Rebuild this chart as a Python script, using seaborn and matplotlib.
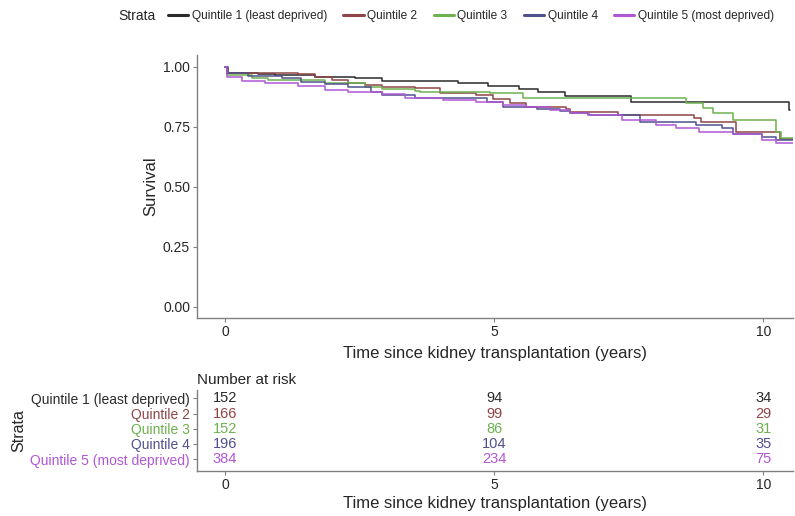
import pandas as pd
import seaborn as sns
import matplotlib.pyplot as plt
from matplotlib.lines import Line2D

# Strata
strata = ["Quintile 1 (least deprived)", "Quintile 2", "Quintile 3",
          "Quintile 4", "Quintile 5 (most deprived)"]
colors = ["#2b2b2b", "#8f4546", "#6cb24f", "#50508f", "#b057d4"]

# Kaplan-Meier step points (time in years, survival)
q1_time = [0, 0.05, 0.61, 0.93, 1.61, 1.67, 2.41, 2.91, 4.33, 4.88, 5.47, 5.81, 6.31, 7.55, 10.48, 10.5]
q1_surv = [1.0, 0.976, 0.971, 0.968, 0.965, 0.96, 0.953, 0.943, 0.932, 0.922, 0.907, 0.895, 0.879, 0.853, 0.821, 0.821]

q2_time = [0, 0.03, 1.36, 1.67, 1.98, 2.28, 2.6, 2.91, 3.53, 3.99, 4.67, 4.97, 5.29, 5.6, 6.34, 6.4, 7.3, 8.72, 8.85, 9.5, 10.3, 10.55]
q2_surv = [1.0, 0.975, 0.971, 0.96, 0.946, 0.935, 0.925, 0.915, 0.911, 0.893, 0.883, 0.865, 0.851, 0.835, 0.824, 0.814, 0.8, 0.786, 0.772, 0.73, 0.70, 0.70]

q3_time = [0, 0.03, 0.5, 0.8, 1.86, 2.6, 2.91, 3.53, 3.62, 4.92, 5.53, 8.57, 8.87, 9.06, 9.43, 10.24, 10.33, 10.55]
q3_surv = [1.0, 0.967, 0.953, 0.946, 0.932, 0.918, 0.907, 0.901, 0.897, 0.89, 0.872, 0.851, 0.828, 0.807, 0.779, 0.73, 0.703, 0.703]

q4_time = [0, 0.03, 0.43, 1.05, 1.42, 1.86, 2.28, 2.72, 2.91, 3.53, 4.86, 5.16, 5.79, 6.22, 6.4, 6.75, 7.7, 8.75, 9.24, 9.43, 9.98, 10.24, 10.55]
q4_surv = [1.0, 0.974, 0.963, 0.953, 0.939, 0.929, 0.918, 0.897, 0.883, 0.872, 0.855, 0.835, 0.824, 0.818, 0.807, 0.8, 0.772, 0.758, 0.744, 0.72, 0.707, 0.696, 0.696]

q5_time = [0, 0.03, 0.31, 0.74, 1.36, 1.86, 2.28, 2.91, 3.34, 4.05, 4.67, 5.16, 5.6, 6.03, 6.4, 6.77, 7.38, 8.0, 8.38, 8.8, 9.43, 9.98, 10.24, 10.55]
q5_surv = [1.0, 0.96, 0.943, 0.935, 0.921, 0.904, 0.895, 0.886, 0.872, 0.863, 0.855, 0.842, 0.835, 0.821, 0.807, 0.8, 0.779, 0.758, 0.744, 0.73, 0.72, 0.696, 0.682, 0.682]

# Number at risk at 0, 5, 10 years
risk_times = [0, 5, 10]
risk_q1 = [152, 94, 34]
risk_q2 = [166, 99, 29]
risk_q3 = [152, 86, 31]
risk_q4 = [196, 104, 35]
risk_q5 = [384, 234, 75]

times = [q1_time, q2_time, q3_time, q4_time, q5_time]
survs = [q1_surv, q2_surv, q3_surv, q4_surv, q5_surv]
risks = [risk_q1, risk_q2, risk_q3, risk_q4, risk_q5]

df = pd.concat([pd.DataFrame({"time": t, "surv": s, "strata": name})
                for t, s, name in zip(times, survs, strata)], ignore_index=True)
pal = dict(zip(strata, colors))

sns.set_style("white")
plt.rcParams["font.family"] = ["Liberation Sans", "DejaVu Sans"]

W, H = 795, 516
fig = plt.figure(figsize=(W / 100, H / 100), dpi=100)
ax = fig.add_axes([197 / W, 1 - 318 / H, (793 - 197) / W, (318 - 55) / H])
axt = fig.add_axes([197 / W, 1 - 471 / H, (793 - 197) / W, (471 - 390) / H])

spine_col = "#808080"

# survival curves
sns.lineplot(data=df, x="time", y="surv", hue="strata", palette=pal,
             drawstyle="steps-post", estimator=None, sort=False,
             linewidth=1.1, ax=ax, legend=False)
ax.set_xlim(-0.52, 10.55)
ax.set_ylim(-0.046, 1.05)
ax.set_xticks([0, 5, 10])
ax.set_yticks([0, 0.25, 0.5, 0.75, 1.0])
ax.set_yticklabels(["0.00", "0.25", "0.50", "0.75", "1.00"])
ax.set_xlabel("Time since kidney transplantation (years)", fontsize=12, labelpad=5)
ax.set_ylabel("Survival", fontsize=12, labelpad=3)
for a in (ax, axt):
    for side in ("top", "right"):
        a.spines[side].set_visible(False)
    for side in ("left", "bottom"):
        a.spines[side].set_color(spine_col)
        a.spines[side].set_linewidth(1.0)
    a.tick_params(axis="both", length=3, width=0.8, color=spine_col,
                  labelsize=10, pad=2, left=True, bottom=True)

# risk table
axt.set_xlim(-0.52, 10.55)
axt.set_ylim(0.21, 5.55)
row_y = [5, 4, 3, 2, 1]
for y, name, col, r in zip(row_y, strata, colors, risks):
    for t, n in zip(risk_times, r):
        axt.text(t, y, str(n), color=col, ha="center", va="center", fontsize=10.5)
axt.set_yticks(row_y)
axt.set_yticklabels(strata)
for lab, col in zip(axt.get_yticklabels(), colors):
    lab.set_color(col)
axt.set_xticks([0, 5, 10])
axt.set_xlabel("Time since kidney transplantation (years)", fontsize=12, labelpad=3)
axt.set_ylabel("Strata", fontsize=11.5, labelpad=3)
axt.set_title("Number at risk", loc="left", fontsize=11, pad=4)

# legend on top
handles = [Line2D([], [], color=c, lw=2.2) for c in colors]
fig.text(118 / W, 1 - 16 / H, "Strata", fontsize=10, va="center", ha="left")
fig.legend(handles, strata, loc="center left", bbox_to_anchor=(168 / W, 1 - 16 / H),
           ncol=5, frameon=False, fontsize=8.6, handlelength=1.7, handletextpad=0.3,
           columnspacing=1.35, borderpad=0, borderaxespad=0)

fig.savefig("out.png", dpi=100)
